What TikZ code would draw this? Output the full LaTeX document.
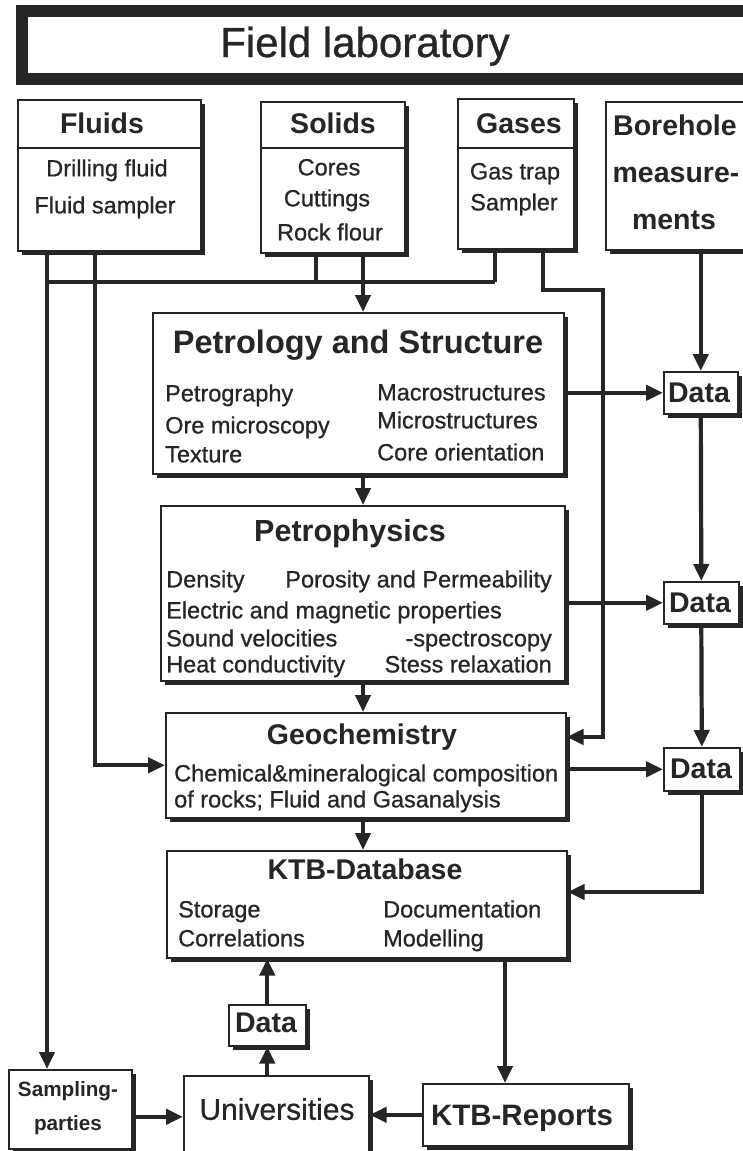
\documentclass[tikz,border=0pt]{standalone}
\usepackage{fontspec}
\setmainfont{Liberation Sans}[UprightFeatures={FakeBold=0.8}]
\usetikzlibrary{arrows.meta,shadows}
\definecolor{ink}{HTML}{262626}

\tikzset{
  box/.style={draw=ink, line width=1.6pt, fill=white, anchor=north west, inner sep=0pt,
    drop shadow={shadow xshift=4pt, shadow yshift=-4pt, fill=ink, opacity=1}},
  txt/.style={inner sep=0pt, text=ink, text depth=0pt},
  head/.style={txt, font=\bfseries\fontsize{28.5}{30}\selectfont, text height=20.4pt},
  item/.style={txt, font=\fontsize{23.5}{26}\selectfont, text height=16.8pt},
  wire/.style={draw=ink, line width=4.2pt},
  feed/.style={wire, -{Triangle[length=17pt,width=15pt]}},
  rule/.style={draw=ink, line width=2.2pt},
}

\begin{document}
\begin{tikzpicture}[x=1pt,y=-1pt]
  \useasboundingbox (0,0) rectangle (743,1151);
  \fill[white] (0,0) rectangle (743,1151);

  % field laboratory
  \node[draw=ink, line width=12pt, fill=white, anchor=north west, inner sep=0pt, outer sep=0pt,
    minimum width=760pt, minimum height=68pt] (lab) at (22,11) {};
  \node[txt, font=\fontsize{42}{44}\selectfont, text height=30pt] (labT) at (365,42) {Field laboratory};

  % sample boxes
  \coordinate (hdr) at (0,148);
  \node[box, minimum width=183pt, minimum height=151pt] (fluids) at (17,99) {};
  \node[box, minimum width=144pt, minimum height=151pt] (solids) at (260,101) {};
  \node[box, minimum width=116pt, minimum height=150pt] (gases) at (457,98) {};
  \node[box, minimum width=150pt, minimum height=148pt] (bore) at (605,101) {};
  \draw[rule] (fluids.west |- hdr) -- (fluids.east |- hdr);
  \draw[rule] (solids.west |- hdr) -- (solids.east |- hdr);
  \draw[rule] (gases.west |- hdr) -- (gases.east |- hdr);

  \node[head] (fluidsT) at (102,123) {Fluids};
  \node[item] (fluids1) at (107,168) {Drilling fluid};
  \node[item] (fluids2) at (105,205) {Fluid sampler};
  \node[head] (solidsT) at (333,123) {Solids};
  \node[item] (solids1) at (329,167) {Cores};
  \node[item] (solids2) at (327,198) {Cuttings};
  \node[item] (solids3) at (330,232) {Rock flour};
  \node[head] (gasesT) at (519,123) {Gases};
  \node[item] (gases1) at (515,171) {Gas trap};
  \node[item] (gases2) at (514,202) {Sampler};
  \node[head] (boreT) at (675,125) {Borehole};
  \node[head] (bore1) at (676,172) {measure-};
  \node[head] (bore2) at (674,219) {ments};

  % laboratory chain
  \node[box, minimum width=411pt, minimum height=161pt] (petro) at (152,312) {};
  \node[box, minimum width=404pt, minimum height=175pt] (phys) at (160,505) {};
  \node[box, minimum width=400pt, minimum height=105pt] (geo) at (165,712) {};
  \node[box, minimum width=400pt, minimum height=107pt] (db) at (166,850) {};

  \node[head, font=\bfseries\fontsize{32.5}{34}\selectfont, text height=23.3pt] (petroT) at (358,342) {Petrology and Structure};
  \node[item, anchor=west] (petro1) at (165,393) {Petrography};
  \node[item, anchor=west] (petro2) at (165,425) {Ore microscopy};
  \node[item, anchor=west] (petro3) at (165,454) {Texture};
  \node[item, anchor=west] (petro4) at (377,392) {Macrostructures};
  \node[item, anchor=west] (petro5) at (377,420) {Microstructures};
  \node[item, anchor=west] (petro6) at (377,452) {Core orientation};

  \node[head, font=\bfseries\fontsize{30.5}{32}\selectfont, text height=21.8pt] (physT) at (350,531) {Petrophysics};
  \node[item, anchor=west] (phys1) at (166,579) {Density};
  \node[item, anchor=east] (phys2) at (552,579) {Porosity and Permeability};
  \node[item, anchor=west] (phys3) at (166,610) {Electric and magnetic properties};
  \node[item, anchor=west] (phys4) at (166,638) {Sound velocities};
  \node[item, anchor=east] (phys5) at (552,638) {-spectroscopy};
  \node[item, anchor=west] (phys6) at (166,664) {Heat conductivity};
  \node[item, anchor=east] (phys7) at (552,664) {Stess relaxation};

  \node[head] (geoT) at (362,734) {Geochemistry};
  \node[item, anchor=west] (geo1) at (174,773) {Chemical\&mineralogical composition};
  \node[item, anchor=west] (geo2) at (174,799) {of rocks; Fluid and Gasanalysis};

  \node[head] (dbT) at (365,869) {KTB-Database};
  \node[item, anchor=west] (db1) at (178,909) {Storage};
  \node[item, anchor=west] (db2) at (178,938) {Correlations};
  \node[item, anchor=west] (db3) at (383,909) {Documentation};
  \node[item, anchor=west] (db4) at (383,938) {Modelling};

  % data boxes
  \node[box, minimum width=74pt, minimum height=42pt] (d1) at (663,371) {};
  \node[box, minimum width=75pt, minimum height=42pt] (d2) at (663,581) {};
  \node[box, minimum width=76pt, minimum height=43pt] (d3) at (663,747) {};
  \node[box, minimum width=77pt, minimum height=41pt] (d4) at (228,1004) {};
  \node[head] (d1T) at (699,392) {Data};
  \node[head] (d2T) at (700,602) {Data};
  \node[head] (d3T) at (701,768) {Data};
  \node[head] (d4T) at (266,1022) {Data};

  % users
  \node[box, minimum width=123pt, minimum height=79pt] (sampling) at (8,1069) {};
  \node[box, minimum width=185pt, minimum height=82pt] (univ) at (183,1075) {};
  \node[box, minimum width=206pt, minimum height=62pt] (reports) at (422,1083) {};
  \node[txt, font=\bfseries\fontsize{20.7}{22}\selectfont, text height=14.8pt] (samplingT) at (68,1089) {Sampling-};
  \node[txt, font=\bfseries\fontsize{20.7}{22}\selectfont, text height=14.8pt] (sampling2) at (68,1123) {parties};
  \node[txt, font=\fontsize{30}{32}\selectfont, text height=21.5pt] (univT) at (277,1109) {Universities};
  \node[head, font=\bfseries\fontsize{29.5}{31}\selectfont, text height=21.1pt] (reportsT) at (522,1115) {KTB-Reports};

  % connectors
  \coordinate (fA) at (47,282);
  \coordinate (fB) at (95,0);
  \coordinate (sJ) at (316,282);
  \coordinate (gJ) at (495,282);
  \coordinate (spine) at (363,0);
  \coordinate (gC) at (543,290);
  \coordinate (gD) at (603,737);
  \coordinate (dbIn) at (0,892);
  \coordinate (repIn) at (505,0);

  \draw[feed] (fluids.south -| fA) -- (sampling.north -| fA);
  \draw[feed] (fluids.south -| fB) |- (geo.west);
  \draw[wire] (fA) -- (gJ);
  \draw[wire] (solids.south -| sJ) -- (sJ);
  \draw[wire] (gases.south -| gJ) -- (gJ);
  \draw[feed] (solids.south -| spine) -- (petro.north -| spine);
  \draw[feed] (petro.south -| spine) -- (phys.north -| spine);
  \draw[feed] (phys.south -| spine) -- (geo.north -| spine);
  \draw[feed] (geo.south -| spine) -- (db.north -| spine);
  \draw[feed] (gases.south -| gC) -- (gC) -| (gD) -- (geo.east |- gD);
  \draw[feed] (bore.south -| d1) -- (d1.north);
  \draw[feed] (petro.east |- d1) -- (d1.west);
  \draw[feed] (phys.east |- d2) -- (d2.west);
  \draw[feed] (geo.east |- d3) -- (d3.west);
  \draw[feed] (d1.south) -- (d2.north);
  \draw[feed] (d2.south) -- (d3.north);
  \draw[feed] (d3.south) |- (db.east |- dbIn);
  \draw[feed] (db.south -| repIn) -- (reports.north -| repIn);
  \draw[feed] (univ.north -| d4) -- (d4.south);
  \draw[feed] (d4.north) -- (db.south -| d4.north);
  \draw[feed] (sampling.east |- univ) -- (univ.west);
  \draw[feed] (reports.west) -- (univ.east |- reports.west);
\end{tikzpicture}
\end{document}
